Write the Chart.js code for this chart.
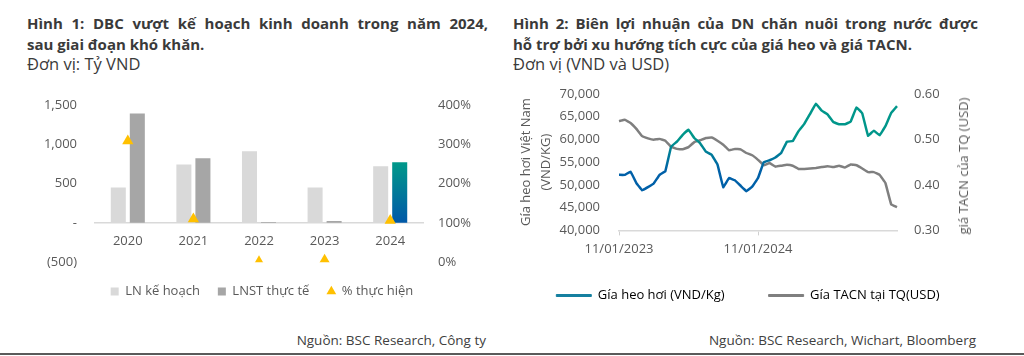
<!DOCTYPE html>
<html><head><meta charset="utf-8">
<script src="https://cdn.jsdelivr.net/npm/chart.js@4.4.1/dist/chart.umd.min.js"></script>
<style>
html,body{margin:0;padding:0;background:#fff;}
body{width:1024px;height:356px;position:relative;overflow:hidden;font-family:"Open Sans",sans-serif;color:#3a3a3a;}
.t{position:absolute;font-weight:700;font-size:15px;line-height:21px;white-space:nowrap;}
.t .j{text-align:justify;text-align-last:justify;}
.s{position:absolute;font-size:16.5px;line-height:20px;white-space:nowrap;}
.src{position:absolute;font-size:13.5px;line-height:18px;text-align:right;white-space:nowrap;color:#404040;}
.box{position:absolute;}
.rule{position:absolute;left:0;top:353px;width:1024px;height:2px;background:#5a5a5a;}
.ytitle{position:absolute;left:963px;top:166px;transform:translate(-50%,-50%) rotate(-90deg);font-size:13px;line-height:16px;white-space:nowrap;color:#595959;}
</style></head><body>
<div class="t" style="left:27px;top:13px;width:461px;"><div class="j">Hình 1: DBC vượt kế hoạch kinh doanh trong năm 2024,</div><div>sau giai đoạn khó khăn.</div></div>
<div class="s" style="left:27px;top:54px;">Đơn vị: Tỷ VND</div>
<div class="t" style="left:513px;top:13px;width:465px;"><div class="j">Hình 2: Biên lợi nhuận của DN chăn nuôi trong nước được</div><div>hỗ trợ bởi xu hướng tích cực của giá heo và giá TACN.</div></div>
<div class="s" style="left:513px;top:54px;">Đơn vị (VND và USD)</div>
<div class="box" style="left:15px;top:79px;width:480px;height:229px;"><canvas id="c1"></canvas></div>
<div class="box" style="left:505px;top:67px;width:500px;height:263px;"><canvas id="c2"></canvas></div>
<div class="ytitle">giá TACN của TQ (USD)</div>
<div class="src" style="right:538px;top:331px;">Nguồn: BSC Research, Công ty</div>
<div class="src" style="right:48px;top:331px;">Nguồn: BSC Research, Wichart, Bloomberg</div>
<div class="rule"></div>
<script>
// ---------- Chart 1 data ----------
const years = ['2020','2021','2022','2023','2024'];
const planProfit = [450, 740, 910, 450, 720];
const actualProfit = [1390, 820, 10, 25, 770];
const pctDone = [308, 110, 1, 5, 106];
const leftTicks1 = [-500, 0, 500, 1000, 1500];
const rightTicks1 = [0, 100, 200, 300, 400];

// ---------- Chart 2 data ----------
const dates = ['11/01/2023','26/01/2023','11/02/2023','26/02/2023','11/03/2023','26/03/2023','11/04/2023','26/04/2023','11/05/2023','26/05/2023','11/06/2023','26/06/2023','11/07/2023','26/07/2023','11/08/2023','26/08/2023','11/09/2023','26/09/2023','11/10/2023','26/10/2023','11/11/2023','26/11/2023','11/12/2023','26/12/2023','11/01/2024','26/01/2024','11/02/2024','26/02/2024','11/03/2024','26/03/2024','11/04/2024','26/04/2024','11/05/2024','26/05/2024','11/06/2024','26/06/2024','11/07/2024','26/07/2024','11/08/2024','26/08/2024','11/09/2024','26/09/2024','11/10/2024','26/10/2024','11/11/2024','26/11/2024','11/12/2024','26/12/2024','11/01/2025'];
const pigPrice = [52200,52200,52900,50400,48800,49500,50300,52200,53000,58400,59500,61000,62100,60300,59150,57300,56600,54500,49500,51500,51000,49800,48600,49600,51500,55000,55400,56000,57000,59500,59600,61800,63400,65600,67800,66300,65500,63800,63300,63300,63900,67000,65700,60800,61900,60900,62900,65800,67300];
const feedPrice = [0.540,0.543,0.536,0.523,0.507,0.502,0.499,0.501,0.497,0.484,0.479,0.478,0.483,0.494,0.498,0.503,0.504,0.497,0.488,0.476,0.479,0.478,0.470,0.465,0.455,0.443,0.448,0.440,0.442,0.444,0.442,0.435,0.435,0.436,0.437,0.439,0.441,0.439,0.442,0.438,0.445,0.443,0.436,0.428,0.428,0.422,0.404,0.357,0.351];
const shownDates = ['11/01/2023','11/01/2024'];

const tickColor = '#595959';
const baseFont = {family:'"Open Sans", sans-serif', size:13};
Chart.defaults.font = baseFont;
Chart.defaults.color = tickColor;
Chart.defaults.animation = false;

function fmt(v){
  if (v === 0) return '-';
  const s = Math.abs(v).toLocaleString('en-US');
  return v < 0 ? '(' + s + ')' : s;
}

// ---------- Chart 1 ----------
new Chart(document.getElementById('c1'), {
  type: 'bar',
  data: {
    labels: years,
    datasets: [
      {label:'LN kế hoạch', data: planProfit, backgroundColor:'#d9d9d9', pointStyle:'rect', yAxisID:'y', order:2,
       categoryPercentage:0.58, barPercentage:0.79},
      {label:'LNST thực tế', data: actualProfit, pointStyle:'rect', yAxisID:'y', order:2,
       categoryPercentage:0.58, barPercentage:0.79,
       backgroundColor: (ctx) => {
         const chart = ctx.chart;
         if (ctx.type !== 'data' || ctx.dataIndex !== years.length-1 || !chart.chartArea) return '#a6a6a6';
         const y = chart.scales.y;
         const g = chart.ctx.createLinearGradient(0, y.getPixelForValue(ctx.raw), 0, y.getPixelForValue(0));
         g.addColorStop(0, '#00998a'); g.addColorStop(1, '#0058a8');
         return g;
       }},
      {type:'line', label:'% thực hiện', data: pctDone, yAxisID:'y1', showLine:false, order:1,
       pointStyle:'triangle', pointRadius:6.5, pointHoverRadius:6.5, backgroundColor:'#ffc000', borderColor:'#ffc000', borderWidth:0}
    ]
  },
  options: {
    responsive:true, maintainAspectRatio:false,
    layout:{padding:{top:0,left:14,right:0,bottom:0}},
    plugins:{
      legend:{position:'bottom', labels:{usePointStyle:true, boxWidth:8, boxHeight:8, padding:18, color:tickColor,
        sort:(a,b)=>a.datasetIndex-b.datasetIndex,
        font:{family:'"Open Sans", sans-serif', size:13}},
        title:{display:true, text:'', padding:0, font:{size:4}}},
      tooltip:{enabled:false}
    },
    scales:{
      x:{position:{y:0}, grid:{display:false, drawTicks:false}, border:{display:true, color:'#d9d9d9', width:1.5},
         ticks:{padding:11, color:tickColor}},
      y:{position:'left', min:-500, max:1500, afterBuildTicks:(s)=>{s.ticks = leftTicks1.map(v=>({value:v}));},
         grid:{display:false, drawTicks:false}, border:{display:false},
         ticks:{padding:18, color:tickColor, callback:(v)=>fmt(v)},
         afterFit:(s)=>{s.width = 66;}},
      y1:{position:'right', min:0, max:400, afterBuildTicks:(s)=>{s.ticks = rightTicks1.map(v=>({value:v}));},
         grid:{display:false, drawTicks:false}, border:{display:false},
         ticks:{padding:15, color:tickColor, callback:(v)=>v+'%'},
         afterFit:(s)=>{s.width = 72;}}
    }
  }
});

// ---------- Chart 2 ----------
const pigLegendColor = '#1580a0';
const legendLift = {
  id:'legendLift',
  afterLayout(chart, args, opts){
    const lg = chart.legend;
    if (lg) { lg.top -= opts.dy; lg.bottom -= opts.dy; }
  }
};
new Chart(document.getElementById('c2'), {
  type: 'line',
  plugins:[legendLift],
  data: {
    labels: dates,
    datasets: [
      {label:'Gía heo hơi (VND/Kg)', data: pigPrice, yAxisID:'y', borderWidth:2.5, pointRadius:0, tension:0.05,
       backgroundColor: pigLegendColor,
       borderColor: (ctx) => {
         const chart = ctx.chart;
         if (!chart.chartArea) return pigLegendColor;
         const y = chart.scales.y;
         const g = chart.ctx.createLinearGradient(0, y.getPixelForValue(60500), 0, y.getPixelForValue(53000));
         g.addColorStop(0, '#00968a'); g.addColorStop(1, '#0060a8');
         return g;
       }},
      {label:'Gía TACN tại TQ(USD)', data: feedPrice, yAxisID:'y1', borderWidth:2.5, pointRadius:0, tension:0.05,
       borderColor:'#7f7f7f', backgroundColor:'#7f7f7f'}
    ]
  },
  options: {
    responsive:true, maintainAspectRatio:false,
    layout:{padding:{top:0,left:0,right:14,bottom:0}},
    plugins:{
      legendLift:{dy:18},
      legend:{position:'bottom', labels:{boxWidth:35, boxHeight:2, padding:44, color:tickColor,
        font:{family:'"Open Sans", sans-serif', size:13},
        generateLabels:(chart)=>chart.data.datasets.map((d,i)=>({text:d.label, fillStyle:i===0?pigLegendColor:'#7f7f7f',
           strokeStyle:i===0?pigLegendColor:'#7f7f7f', lineWidth:1, datasetIndex:i, hidden:false}))}},
      tooltip:{enabled:false}
    },
    scales:{
      x:{grid:{display:true, drawOnChartArea:false, drawTicks:true, tickLength:5,
              color:(c)=> (c.tick && shownDates.includes(c.tick.label)) ? '#d0d0d0' : 'rgba(0,0,0,0)'},
         border:{display:true, color:'#d9d9d9', width:1.5},
         ticks:{autoSkip:false, maxRotation:0, padding:6, color:tickColor,
                callback:function(v,i){ const l = this.getLabelForValue(v); return shownDates.includes(l) ? l : ''; }}},
      y:{position:'left', min:40000, max:70000, ticks:{stepSize:5000, padding:19, color:tickColor, callback:(v)=>v.toLocaleString('en-US')},
         grid:{display:false, drawTicks:false}, border:{display:false},
         title:{display:true, text:['Gía heo hơi Việt Nam','(VND/KG)'], color:tickColor, font:{size:13, lineHeight:1.5}, padding:{top:12,bottom:0}},
         afterFit:(s)=>{s.width = 114;}},
      y1:{position:'right', min:0.30, max:0.60, ticks:{stepSize:0.1, padding:17, color:tickColor, callback:(v)=>v.toFixed(2)},
         grid:{display:false, drawTicks:false}, border:{display:false},
         afterFit:(s)=>{s.width = 94;}}
    }
  }
});
</script>
</body></html>
